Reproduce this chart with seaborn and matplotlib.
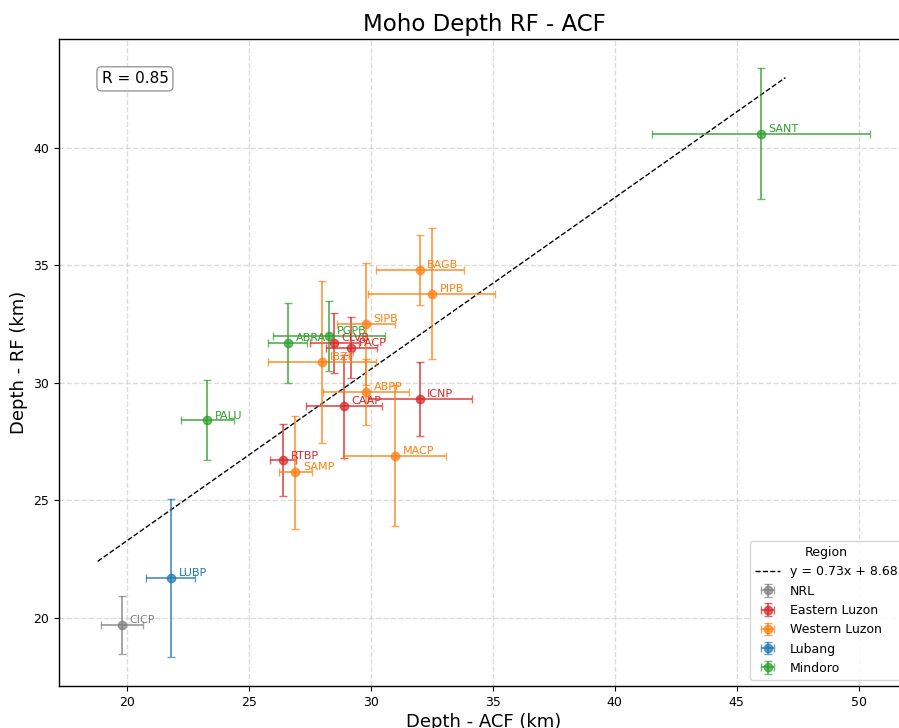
import numpy as np
import pandas as pd
import matplotlib
matplotlib.use("Agg")
import matplotlib.pyplot as plt
import seaborn as sns

# ── Data ────────────────────────────────────────────────────────────────────
stations = ["CICP", "RTBP", "CAAP", "CLVB", "PACP", "ICNP",
            "SAMP", "IBZP", "ABPP", "SIPB", "MACP", "BAGB", "PIPB",
            "LUBP",
            "PALU", "ABRA", "PGPB", "SANT"]
regions = ["NRL", "Eastern Luzon", "Eastern Luzon", "Eastern Luzon", "Eastern Luzon", "Eastern Luzon",
           "Western Luzon", "Western Luzon", "Western Luzon", "Western Luzon", "Western Luzon",
           "Western Luzon", "Western Luzon",
           "Lubang",
           "Mindoro", "Mindoro", "Mindoro", "Mindoro"]
acf_depth = [19.8, 26.4, 28.9, 28.5, 29.2, 32.0,
             26.9, 28.0, 29.8, 29.8, 31.0, 32.0, 32.5,
             21.8,
             23.3, 26.6, 28.3, 46.0]
acf_err = [0.87, 0.53, 1.55, 1.0, 1.05, 2.13,
           0.67, 2.2, 1.78, 1.2, 2.1, 1.8, 2.6,
           1.0,
           1.1, 0.8, 2.3, 4.48]
rf_depth = [19.7, 26.7, 29.0, 31.7, 31.5, 29.3,
            26.2, 30.9, 29.6, 32.5, 26.9, 34.8, 33.8,
            21.7,
            28.4, 31.7, 32.0, 40.6]
rf_err = [1.23, 1.53, 2.2, 1.27, 1.29, 1.57,
          2.4, 3.45, 1.4, 2.6, 3.0, 1.5, 2.8,
          3.35,
          1.7, 1.7, 1.5, 2.78]

region_order = ["NRL", "Eastern Luzon", "Western Luzon", "Lubang", "Mindoro"]
region_colors = {"NRL": "tab:gray", "Eastern Luzon": "tab:red",
                 "Western Luzon": "tab:orange", "Lubang": "tab:blue",
                 "Mindoro": "tab:green"}

fit_slope, fit_intercept = 0.73, 8.68
r_value = 0.85

df = pd.DataFrame({"station": stations, "region": regions,
                   "acf": acf_depth, "acf_err": acf_err,
                   "rf": rf_depth, "rf_err": rf_err})

# ── Plot ────────────────────────────────────────────────────────────────────
sns.set_theme(style="ticks", rc={"text.color": "black", "axes.labelcolor": "black",
                                 "xtick.color": "black", "ytick.color": "black",
                                 "axes.edgecolor": "black", "axes.linewidth": 1.0,
                                 "xtick.major.size": 3.5, "ytick.major.size": 3.5,
                                 "xtick.major.width": 0.8, "ytick.major.width": 0.8})
plt.rcParams["font.family"] = ["DejaVu Sans"]

fig = plt.figure(figsize=(8.99, 7.28), dpi=100)
ax = fig.add_axes([59 / 899, 42 / 728, 850 / 899, 647 / 728])

for reg in region_order:
    sub = df[df["region"] == reg]
    ax.errorbar(sub["acf"], sub["rf"], xerr=sub["acf_err"], yerr=sub["rf_err"],
                fmt="o", color=region_colors[reg], ecolor=region_colors[reg],
                markersize=6, elinewidth=1.4, capsize=3, alpha=0.7,
                label=reg, zorder=3)
    for _, r in sub.iterrows():
        ax.annotate(r["station"], (r["acf"], r["rf"]), xytext=(5.5, 3.5),
                    textcoords="offset points", fontsize=8, va="center",
                    color=region_colors[reg], zorder=4)

# best-fit line, spanning the data range padded by 1 km
fit_label = f"y = {fit_slope:.2f}x + {fit_intercept:.2f}"
fit_x = np.array([df["acf"].min() - 1, df["acf"].max() + 1])
fit_df = pd.DataFrame({"x": fit_x, "y": fit_slope * fit_x + fit_intercept})
sns.lineplot(data=fit_df, x="x", y="y", ax=ax, color="black", linestyle="--",
             linewidth=1.0, label=fit_label, zorder=2)

ax.text(0.05, 0.95, f"R = {r_value:.2f}", transform=ax.transAxes,
        fontsize=11, va="top", ha="left",
        bbox=dict(boxstyle="round,pad=0.3", facecolor="white",
                  edgecolor="gray", alpha=0.8))

ax.grid(True, linestyle="--", alpha=0.7)
ax.set_title("Moho Depth RF - ACF", fontsize=16.5)
ax.set_xlabel("Depth - ACF (km)", fontsize=13, labelpad=3)
ax.set_ylabel("Depth - RF (km)", fontsize=13)
ax.tick_params(labelsize=9)

handles, labels = ax.get_legend_handles_labels()
lookup = dict(zip(labels, handles))
leg_labels = [fit_label] + region_order
ax.legend([lookup[l] for l in leg_labels], leg_labels,
          title="Region", loc="lower right", fontsize=9, title_fontsize=9)

fig.savefig("out.png", dpi=100)
